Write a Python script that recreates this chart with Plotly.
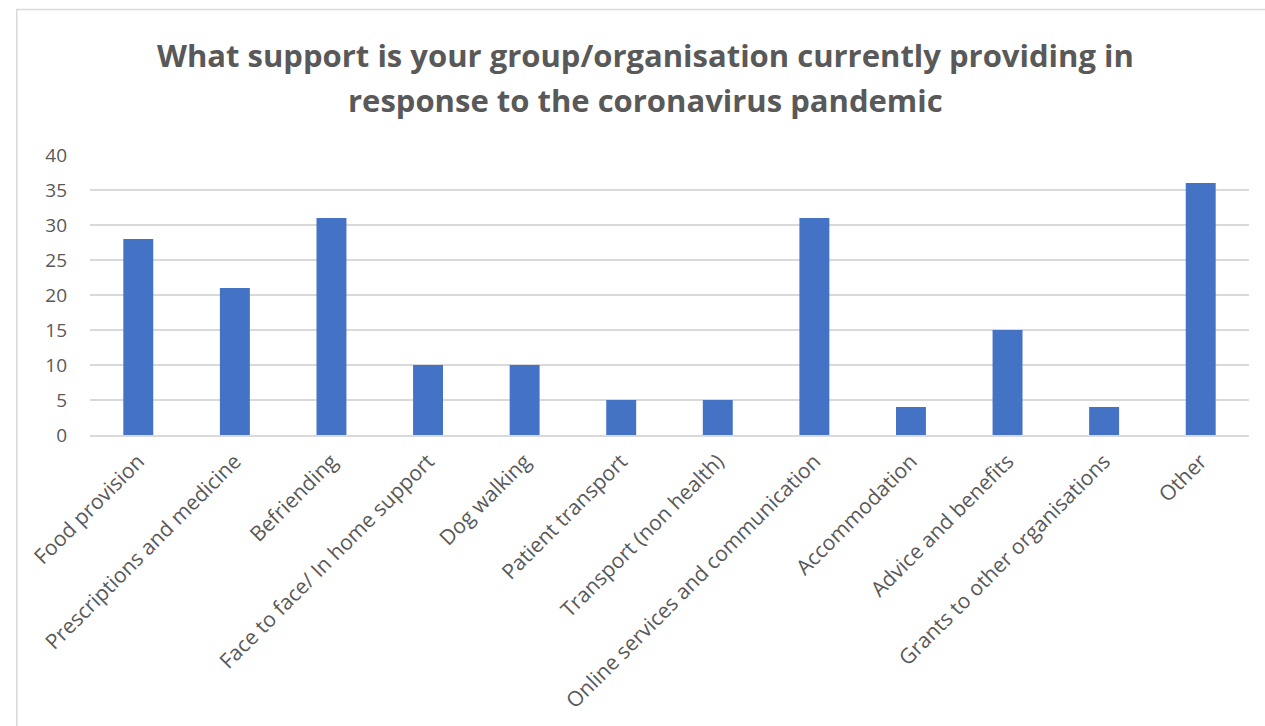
import plotly.graph_objects as go

categories = ["Food provision", "Prescriptions and medicine", "Befriending",
              "Face to face/ In home support", "Dog walking", "Patient transport",
              "Transport (non health)", "Online services and communication",
              "Accommodation", "Advice and benefits", "Grants to other organisations", "Other"]
values = [28, 21, 31, 10, 10, 5, 5, 31, 4, 15, 4, 36]
y_ticks = [0, 5, 10, 15, 20, 25, 30, 35, 40]
title_lines = ["What support is your group/organisation currently providing in",
               "response to the coronavirus pandemic"]

FONT = "Open Sans"
GRAY = "#595959"

fig = go.Figure(go.Bar(x=categories, y=values, marker=dict(color="#4472C4", line=dict(width=0))))

annotations = []
for line, yy in zip(title_lines, [1.357, 1.196]):
    annotations.append(dict(text="<b>" + line + "</b>", xref="paper", yref="paper",
                            x=0.479, y=yy, xanchor="center", yanchor="middle", showarrow=False,
                            font=dict(family=FONT, size=31, color=GRAY)))

fig.update_layout(
    width=1265, height=726,
    margin=dict(l=90, r=16, t=155, b=291),
    paper_bgcolor="white", plot_bgcolor="white",
    bargap=0.69,
    font=dict(family=FONT, color=GRAY),
    annotations=annotations,
    xaxis=dict(tickangle=-45, tickfont=dict(family=FONT, size=21, color=GRAY),
               showline=True, linecolor="#d9d9d9", linewidth=1.5, ticks="", showgrid=False,
               ticklabelstandoff=4),
    yaxis=dict(range=[0, 40], tickvals=y_ticks, tickfont=dict(family=FONT, size=19, color=GRAY),
               showgrid=True, gridcolor="#d9d9d9", gridwidth=1.5, zeroline=False,
               ticklabelstandoff=22, showline=False),
    shapes=[dict(type="rect", xref="paper", yref="paper", x0=-0.0632, x1=1.2, y0=-2, y1=1.52,
                 line=dict(color="#d9d9d9", width=1.5), fillcolor="rgba(0,0,0,0)", layer="below")],
)

fig.write_html("out.html")
